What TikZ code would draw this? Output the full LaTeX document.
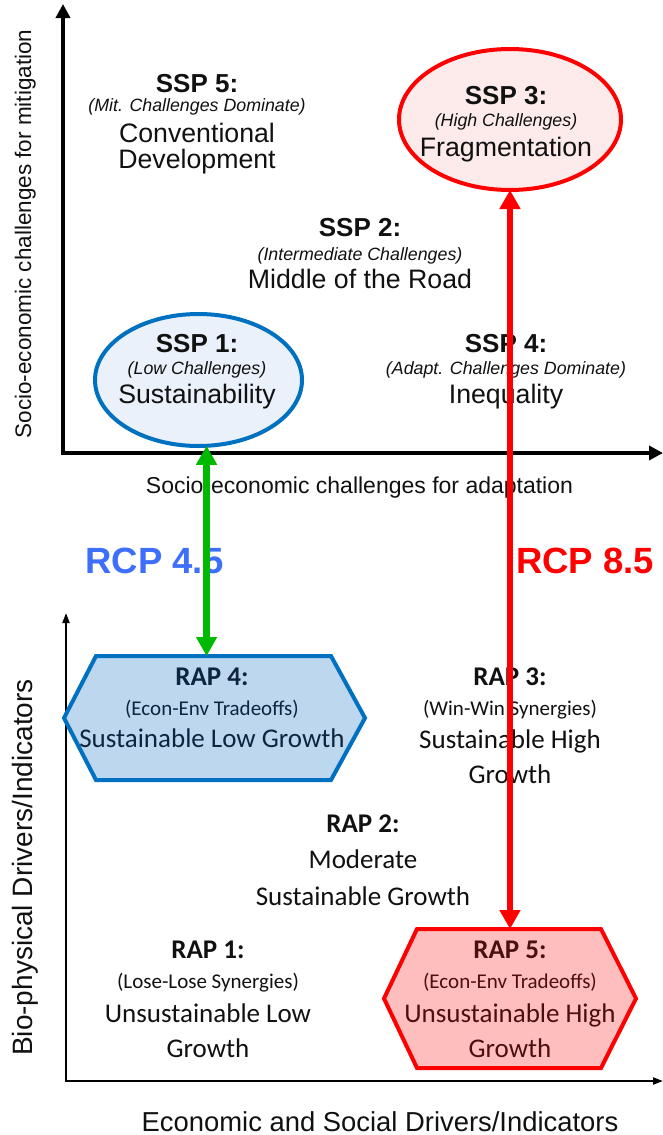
\documentclass[tikz,border=0pt]{standalone}
\usepackage{fontspec}
\setmainfont{Liberation Sans}
\newfontfamily\calibri{Carlito}
\usetikzlibrary{arrows.meta,shapes.geometric}
\definecolor{txt}{RGB}{17,17,17}
\definecolor{sspblue}{RGB}{0,112,192}
\definecolor{sspbluefill}{RGB}{234,241,250}
\definecolor{rapbluefill}{RGB}{189,215,238}
\definecolor{rapbluetext}{RGB}{14,36,64}
\definecolor{sspred}{RGB}{255,0,0}
\definecolor{sspredfill}{RGB}{253,234,234}
\definecolor{rapredfill}{RGB}{255,190,190}
\definecolor{rapredtext}{RGB}{74,16,16}
\definecolor{rcpblue}{RGB}{61,111,250}
\definecolor{linkgreen}{RGB}{0,185,0}
\newcommand\fsz[1]{\fontsize{#1}{#1}\selectfont}

\begin{document}
\begin{tikzpicture}[x=1pt,y=-1pt,
  every node/.style={inner sep=0pt,outer sep=0pt,text=txt},
  ssphead/.style={anchor=base,font=\bfseries\fsz{26}},
  sspsub/.style={anchor=base,font=\itshape\fsz{17.8}},
  sspname/.style={anchor=base,font=\fsz{26.7}},
  raphead/.style={anchor=base,font=\calibri\bfseries\fsz{27}},
  rapsub/.style={anchor=base,font=\calibri\fsz{21}},
  rapname/.style={anchor=base,font=\calibri\fsz{27}},
  axislabel/.style={anchor=base,font=\fsz{23}},
  rcplabel/.style={anchor=base,font=\bfseries\fsz{36.5}},
  topaxis/.style={line width=3.5pt,
    {Triangle[length=14pt,width=14pt]}-{Triangle[length=14pt,width=14pt]}},
  botaxis/.style={line width=2pt,
    {Triangle[length=10pt,width=7pt]}-{Triangle[length=10pt,width=7pt]}},
  sspoval/.style={ellipse,line width=4pt},
  hexframe/.style={draw=none,fill=none},
  hexline/.style={line width=4pt,line join=miter},
  link/.style={line width=6.5pt,
    {Triangle[length=19pt,width=20pt]}-{Triangle[length=19pt,width=20pt]}}
]
\useasboundingbox (0,0) rectangle (663,1135);
\fill[white] (0,0) rectangle (663,1135);

% ---- SSP axes ----
\coordinate (top-y) at (63,4);
\coordinate (top-x) at (663,453);
\draw[topaxis] (top-y) |- (top-x);
\node[axislabel] (lab-adapt) at (359.5,493) {Socio-economic challenges for adaptation};
\node[axislabel,font=\fsz{22.5},rotate=90] (lab-mitig) at (31,234) {Socio-economic challenges for mitigation};

% ---- RAP axes ----
\coordinate (bot-y) at (66,613);
\coordinate (bot-x) at (663,1081);
\draw[botaxis] (bot-y) |- (bot-x);
\node[axislabel,font=\fsz{28},rotate=90] (lab-bio) at (32,867.5) {Bio-physical Drivers/Indicators};
\node[axislabel,font=\fsz{27.4}] (lab-econ) at (380,1131) {Economic and Social Drivers/Indicators};

% ---- highlighted SSPs ----
\node[sspoval,draw=sspblue,fill=sspbluefill,minimum width=207pt,minimum height=132pt] (ssp1) at (198.5,380) {};
\node[sspoval,draw=sspred,fill=sspredfill,minimum width=222pt,minimum height=141pt] (ssp3) at (510,119.5) {};

% ---- highlighted RAPs ----
\node[hexframe,minimum width=301pt,minimum height=124pt] (rap4) at (214.5,718) {};
\draw[hexline,draw=sspblue,fill=rapbluefill]
  (rap4.west) -- ([xshift=32pt]rap4.north west) -- ([xshift=-34pt]rap4.north east)
  -- (rap4.east) -- ([xshift=-34pt]rap4.south east) -- ([xshift=32pt]rap4.south west) -- cycle;
\node[hexframe,minimum width=252pt,minimum height=139pt] (rap5) at (510,998.5) {};
\draw[hexline,draw=sspred,fill=rapredfill]
  (rap5.west) -- ([xshift=33pt]rap5.north west) -- ([xshift=-35pt]rap5.north east)
  -- (rap5.east) -- ([xshift=-35pt]rap5.south east) -- ([xshift=33pt]rap5.south west) -- cycle;

% ---- SSP texts ----
\node[ssphead] (ssp5-h) at (197,92) {SSP 5:};
\node[sspsub]  (ssp5-s) at (197,111) {(Mit. Challenges Dominate)};
\node[sspname] (ssp5-n1) at (197,142) {Conventional};
\node[sspname] (ssp5-n2) at (197,168) {Development};

\node[ssphead] (ssp3-h) at (506,104) {SSP 3:};
\node[sspsub]  (ssp3-s) at (506,126) {(High Challenges)};
\node[sspname] (ssp3-n) at (506,156) {Fragmentation};

\node[ssphead] (ssp2-h) at (360,236) {SSP 2:};
\node[sspsub]  (ssp2-s) at (360,260) {(Intermediate Challenges)};
\node[sspname] (ssp2-n) at (360,288) {Middle of the Road};

\node[ssphead] (ssp1-h) at (197,352) {SSP 1:};
\node[sspsub]  (ssp1-s) at (197,374) {(Low Challenges)};
\node[sspname] (ssp1-n) at (197,403) {Sustainability};

\node[ssphead] (ssp4-h) at (506,352) {SSP 4:};
\node[sspsub]  (ssp4-s) at (506,374) {(Adapt. Challenges Dominate)};
\node[sspname] (ssp4-n) at (506,403) {Inequality};

% ---- RCP labels ----
\node[rcplabel,text=rcpblue] (rcp45) at (154.5,573) {RCP 4.5};
\node[rcplabel,text=sspred] (rcp85) at (585,573) {RCP 8.5};

% ---- RAP texts ----
\node[raphead,text=rapbluetext] (rap4-h) at (212,685) {RAP 4:};
\node[rapsub,text=rapbluetext]  (rap4-s) at (212,715) {(Econ-Env Tradeoffs)};
\node[rapname,text=rapbluetext] (rap4-n) at (212,747) {Sustainable Low Growth};

\node[raphead] (rap3-h) at (510,685) {RAP 3:};
\node[rapsub]  (rap3-s) at (510,715) {(Win-Win Synergies)};
\node[rapname] (rap3-n1) at (510,748) {Sustainable High};
\node[rapname] (rap3-n2) at (510,783) {Growth};

\node[raphead] (rap2-h) at (363,832) {RAP 2:};
\node[rapname] (rap2-n1) at (363,868) {Moderate};
\node[rapname] (rap2-n2) at (363,905) {Sustainable Growth};

\node[raphead] (rap1-h) at (208,958) {RAP 1:};
\node[rapsub]  (rap1-s) at (208,988) {(Lose-Lose Synergies)};
\node[rapname] (rap1-n1) at (208,1022) {Unsustainable Low};
\node[rapname] (rap1-n2) at (208,1057) {Growth};

\node[raphead,text=rapredtext] (rap5-h) at (510,958) {RAP 5:};
\node[rapsub,text=rapredtext]  (rap5-s) at (510,988) {(Econ-Env Tradeoffs)};
\node[rapname,text=rapredtext] (rap5-n1) at (510,1022) {Unsustainable High};
\node[rapname,text=rapredtext] (rap5-n2) at (510,1057) {Growth};

% ---- SSP/RAP links ----
\draw[link,draw=linkgreen,fill=linkgreen] (ssp1.-83.5) -- (ssp1.-83.5 |- rap4.north);
\draw[link,draw=sspred,fill=sspred] (ssp3.south) -- (rap5.north);
\end{tikzpicture}
\end{document}
